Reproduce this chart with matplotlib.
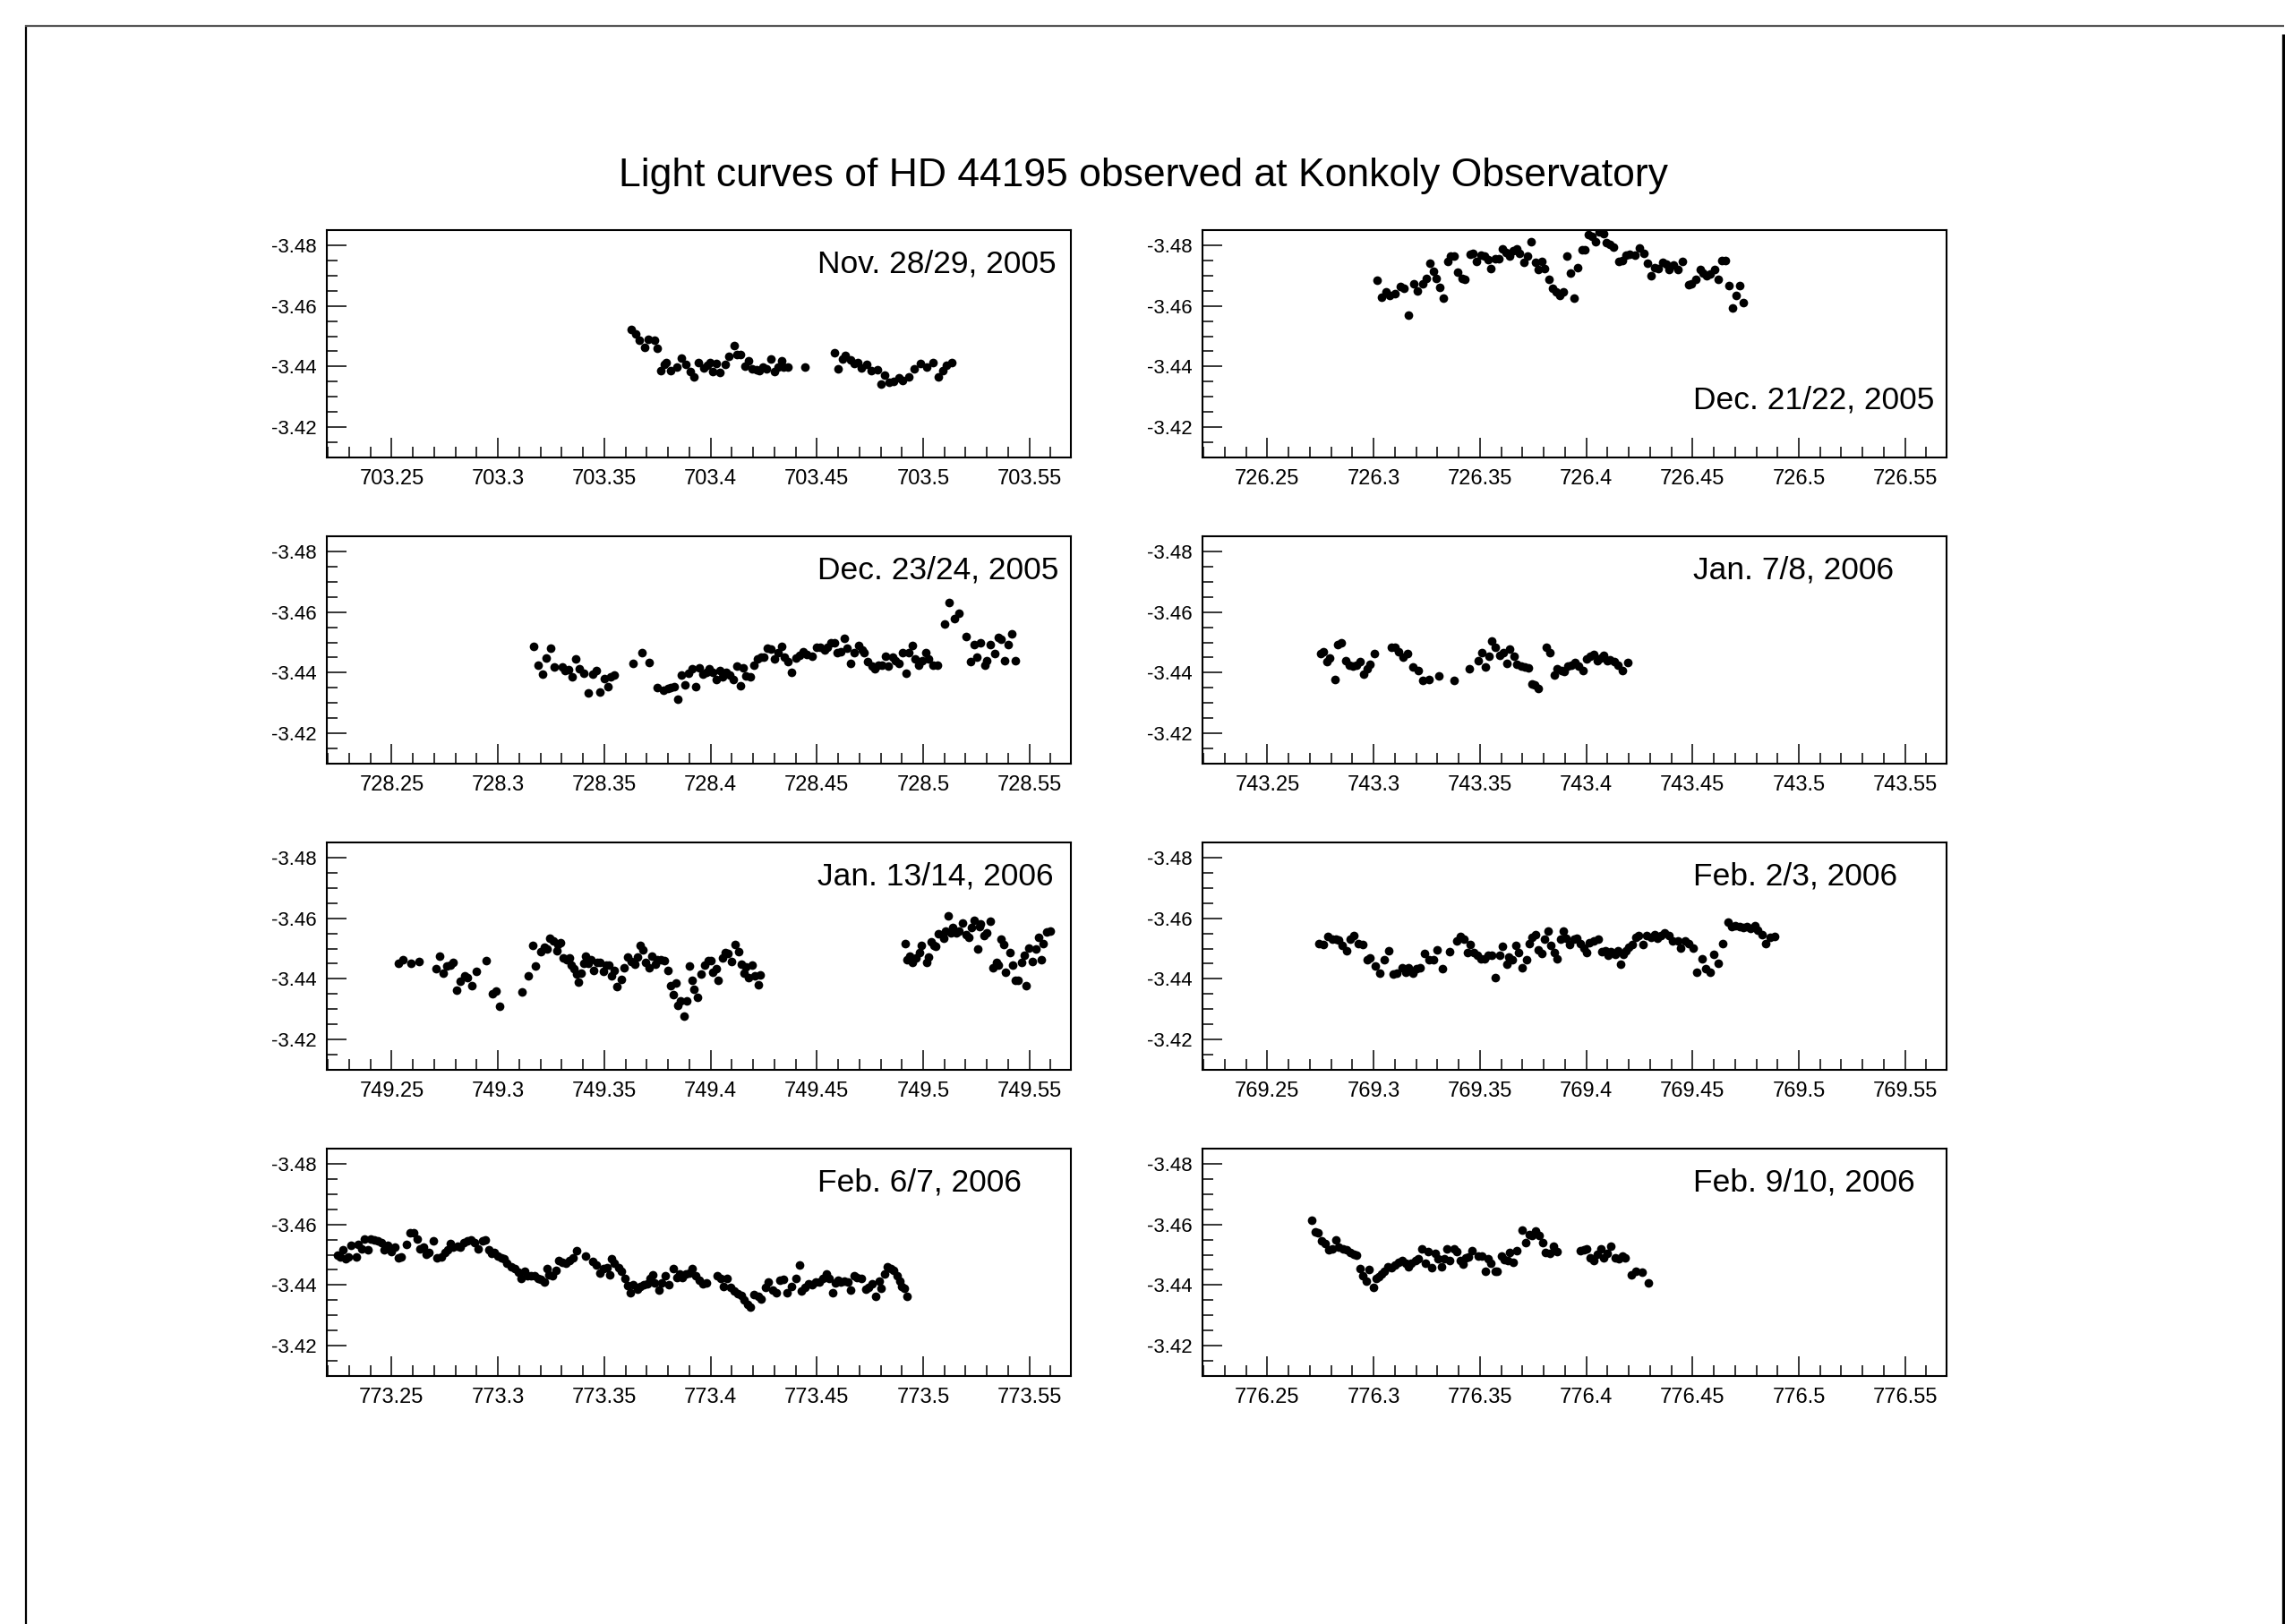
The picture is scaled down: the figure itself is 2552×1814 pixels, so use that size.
""" Light curves of HD 44195, one panel per observing night """

import matplotlib
matplotlib.use("Agg")
import matplotlib.pyplot as plt
from matplotlib.lines import Line2D
from matplotlib.ticker import MultipleLocator, FuncFormatter

plt.rcParams["font.family"] = ["Liberation Sans", "DejaVu Sans"]

title = "Light curves of HD 44195 observed at Konkoly Observatory"

nights = ["Nov. 28/29, 2005", "Dec. 21/22, 2005", "Dec. 23/24, 2005",
          "Jan. 7/8, 2006", "Jan. 13/14, 2006", "Feb. 2/3, 2006",
          "Feb. 6/7, 2006", "Feb. 9/10, 2006"]
night_days = [703, 726, 728, 743, 749, 769, 773, 776]

# HJD - 2453000 and differential V magnitude for every night
nov28_t = [703.3629, 703.3649, 703.3667, 703.3692, 703.3707, 703.3735, 703.3750, 703.3764, 703.3784, 703.3791,
           703.3814, 703.3843, 703.3861, 703.3886, 703.3904, 703.3920, 703.3944, 703.3967, 703.3983, 703.3999,
           703.4010, 703.4028, 703.4042, 703.4069, 703.4087, 703.4111, 703.4125, 703.4141, 703.4163, 703.4179,
           703.4195, 703.4215, 703.4231, 703.4247, 703.4265, 703.4285, 703.4301, 703.4317, 703.4333, 703.4344,
           703.4364, 703.4446, 703.4583, 703.4599, 703.4619, 703.4633, 703.4660, 703.4676, 703.4694, 703.4710,
           703.4734, 703.4757, 703.4786, 703.4802, 703.4820, 703.4841, 703.4863, 703.4886, 703.4904, 703.4931,
           703.4958, 703.4987, 703.5017, 703.5046, 703.5073, 703.5093, 703.5111, 703.5134]
nov28_mag = [-3.4521, -3.4508, -3.4488, -3.4464, -3.4491, -3.4486, -3.4461, -3.4387, -3.4407, -3.4412,
             -3.4387, -3.4397, -3.4427, -3.4407, -3.4382, -3.4365, -3.4412, -3.4395, -3.4404, -3.4412,
             -3.4382, -3.4410, -3.4380, -3.4407, -3.4435, -3.4468, -3.4440, -3.4440, -3.4402, -3.4419,
             -3.4392, -3.4390, -3.4387, -3.4397, -3.4392, -3.4424, -3.4384, -3.4397, -3.4420, -3.4397,
             -3.4399, -3.4397, -3.4445, -3.4392, -3.4425, -3.4437, -3.4422, -3.4409, -3.4412, -3.4395,
             -3.4407, -3.4387, -3.4389, -3.4341, -3.4372, -3.4348, -3.4351, -3.4362, -3.4354, -3.4367,
             -3.4392, -3.4410, -3.4397, -3.4414, -3.4365, -3.4385, -3.4405, -3.4412]

dec21_t = [726.3016, 726.3038, 726.3059, 726.3077, 726.3099, 726.3124, 726.3142, 726.3165, 726.3187, 726.3207,
           726.3230, 726.3246, 726.3264, 726.3280, 726.3295, 726.3313, 726.3329, 726.3347, 726.3363, 726.3379,
           726.3397, 726.3415, 726.3431, 726.3453, 726.3469, 726.3485, 726.3503, 726.3521, 726.3537, 726.3552,
           726.3573, 726.3589, 726.3607, 726.3622, 726.3640, 726.3658, 726.3672, 726.3688, 726.3706, 726.3724,
           726.3740, 726.3762, 726.3776, 726.3792, 726.3805, 726.3825, 726.3843, 726.3859, 726.3877, 726.3893,
           726.3911, 726.3927, 726.3945, 726.3961, 726.3981, 726.3994, 726.4012, 726.4028, 726.4046, 726.4062,
           726.4080, 726.4096, 726.4112, 726.4130, 726.4152, 726.4170, 726.4186, 726.4204, 726.4231, 726.4252,
           726.4270, 726.4290, 726.4306, 726.4324, 726.4339, 726.4360, 726.4378, 726.4391, 726.4412, 726.4432,
           726.4452, 726.4482, 726.4495, 726.4515, 726.4536, 726.4551, 726.4567, 726.4585, 726.4603, 726.4619,
           726.4637, 726.4653, 726.4671, 726.4687, 726.4705, 726.4723, 726.4739]
dec21_mag = [-3.4684, -3.4630, -3.4647, -3.4635, -3.4640, -3.4664, -3.4659, -3.4570, -3.4674, -3.4650,
             -3.4674, -3.4692, -3.4741, -3.4714, -3.4691, -3.4662, -3.4625, -3.4747, -3.4763, -3.4763,
             -3.4712, -3.4692, -3.4687, -3.4771, -3.4773, -3.4746, -3.4768, -3.4763, -3.4753, -3.4722,
             -3.4755, -3.4755, -3.4788, -3.4776, -3.4765, -3.4783, -3.4788, -3.4773, -3.4744, -3.4763,
             -3.4813, -3.4744, -3.4719, -3.4746, -3.4724, -3.4689, -3.4659, -3.4645, -3.4635, -3.4645,
             -3.4765, -3.4709, -3.4625, -3.4726, -3.4785, -3.4785, -3.4835, -3.4828, -3.4811, -3.4843,
             -3.4838, -3.4808, -3.4803, -3.4795, -3.4746, -3.4749, -3.4768, -3.4770, -3.4768, -3.4790,
             -3.4773, -3.4741, -3.4699, -3.4727, -3.4724, -3.4744, -3.4739, -3.4719, -3.4734, -3.4721,
             -3.4747, -3.4671, -3.4674, -3.4689, -3.4719, -3.4709, -3.4699, -3.4704, -3.4719, -3.4689,
             -3.4750, -3.4749, -3.4667, -3.4592, -3.4633, -3.4666, -3.4610]

dec23_t = [728.3170, 728.3190, 728.3210, 728.3228, 728.3246, 728.3264, 728.3301, 728.3316, 728.3332, 728.3350,
           728.3366, 728.3384, 728.3405, 728.3423, 728.3445, 728.3463, 728.3481, 728.3499, 728.3518, 728.3531,
           728.3549, 728.3635, 728.3678, 728.3710, 728.3750, 728.3780, 728.3798, 728.3814, 728.3829, 728.3845,
           728.3863, 728.3881, 728.3897, 728.3913, 728.3931, 728.3949, 728.3965, 728.3981, 728.3994, 728.4010,
           728.4028, 728.4044, 728.4058, 728.4074, 728.4092, 728.4107, 728.4123, 728.4139, 728.4155, 728.4168,
           728.4187, 728.4205, 728.4220, 728.4238, 728.4250, 728.4268, 728.4286, 728.4302, 728.4318, 728.4333,
           728.4349, 728.4365, 728.4383, 728.4401, 728.4419, 728.4435, 728.4453, 728.4476, 728.4498, 728.4514,
           728.4535, 728.4550, 728.4566, 728.4584, 728.4596, 728.4614, 728.4629, 728.4643, 728.4661, 728.4677,
           728.4695, 728.4713, 728.4724, 728.4740, 728.4758, 728.4774, 728.4790, 728.4808, 728.4824, 728.4837,
           728.4855, 728.4869, 728.4887, 728.4903, 728.4919, 728.4932, 728.4950, 728.4964, 728.4980, 728.4996,
           728.5014, 728.5027, 728.5045, 728.5066, 728.5102, 728.5122, 728.5147, 728.5170, 728.5201, 728.5224,
           728.5242, 728.5253, 728.5271, 728.5292, 728.5301, 728.5317, 728.5337, 728.5353, 728.5368, 728.5384,
           728.5400, 728.5416, 728.5434]
dec23_mag = [-3.4487, -3.4424, -3.4396, -3.4449, -3.4480, -3.4420, -3.4418, -3.4406, -3.4411, -3.4386,
             -3.4446, -3.4414, -3.4398, -3.4334, -3.4396, -3.4406, -3.4337, -3.4381, -3.4354, -3.4386,
             -3.4391, -3.4430, -3.4467, -3.4434, -3.4352, -3.4342, -3.4347, -3.4352, -3.4354, -3.4312,
             -3.4391, -3.4360, -3.4398, -3.4413, -3.4354, -3.4416, -3.4396, -3.4401, -3.4414, -3.4401,
             -3.4378, -3.4408, -3.4386, -3.4401, -3.4393, -3.4378, -3.4423, -3.4356, -3.4416, -3.4389,
             -3.4386, -3.4426, -3.4444, -3.4451, -3.4451, -3.4482, -3.4477, -3.4444, -3.4467, -3.4487,
             -3.4451, -3.4436, -3.4400, -3.4448, -3.4457, -3.4470, -3.4460, -3.4455, -3.4485, -3.4483,
             -3.4475, -3.4485, -3.4500, -3.4500, -3.4465, -3.4470, -3.4513, -3.4482, -3.4431, -3.4465,
             -3.4490, -3.4475, -3.4465, -3.4436, -3.4421, -3.4414, -3.4426, -3.4426, -3.4453, -3.4423,
             -3.4451, -3.4439, -3.4431, -3.4465, -3.4398, -3.4465, -3.4490, -3.4444, -3.4426, -3.4441,
             -3.4467, -3.4446, -3.4426, -3.4424, -3.4561, -3.4631, -3.4577, -3.4597, -3.4518, -3.4438,
             -3.4493, -3.4451, -3.4498, -3.4426, -3.4439, -3.4492, -3.4463, -3.4517, -3.4510, -3.4441,
             -3.4492, -3.4527, -3.4441]

jan7_t = [743.2749, 743.2765, 743.2781, 743.2795, 743.2817, 743.2833, 743.2849, 743.2867, 743.2885, 743.2903,
          743.2919, 743.2937, 743.2953, 743.2968, 743.2984, 743.3005, 743.3084, 743.3099, 743.3117, 743.3138,
          743.3160, 743.3183, 743.3208, 743.3232, 743.3260, 743.3305, 743.3379, 743.3449, 743.3492, 743.3510,
          743.3526, 743.3542, 743.3557, 743.3573, 743.3594, 743.3612, 743.3627, 743.3641, 743.3659, 743.3673,
          743.3693, 743.3711, 743.3727, 743.3743, 743.3758, 743.3776, 743.3813, 743.3831, 743.3849, 743.3864,
          743.3882, 743.3898, 743.3914, 743.3932, 743.3948, 743.3966, 743.3984, 743.4000, 743.4018, 743.4036,
          743.4052, 743.4068, 743.4083, 743.4099, 743.4113, 743.4131, 743.4149, 743.4169, 743.4194]
jan7_mag = [-3.4463, -3.4470, -3.4436, -3.4448, -3.4379, -3.4493, -3.4498, -3.4439, -3.4424, -3.4421,
            -3.4424, -3.4436, -3.4396, -3.4414, -3.4428, -3.4462, -3.4485, -3.4483, -3.4470, -3.4451,
            -3.4463, -3.4419, -3.4406, -3.4374, -3.4379, -3.4388, -3.4374, -3.4413, -3.4441, -3.4467,
            -3.4419, -3.4453, -3.4505, -3.4485, -3.4457, -3.4465, -3.4431, -3.4477, -3.4455, -3.4429,
            -3.4421, -3.4418, -3.4416, -3.4363, -3.4359, -3.4347, -3.4483, -3.4467, -3.4391, -3.4414,
            -3.4406, -3.4404, -3.4421, -3.4424, -3.4433, -3.4421, -3.4408, -3.4444, -3.4455, -3.4460,
            -3.4439, -3.4448, -3.4457, -3.4441, -3.4443, -3.4438, -3.4426, -3.4408, -3.4434]

jan13_t = [749.2534, 749.2553, 749.2593, 749.2629, 749.2708, 749.2724, 749.2742, 749.2760, 749.2776, 749.2790,
           749.2806, 749.2824, 749.2842, 749.2858, 749.2878, 749.2898, 749.2943, 749.2973, 749.2989, 749.3009,
           749.3113, 749.3142, 749.3163, 749.3176, 749.3201, 749.3219, 749.3231, 749.3244, 749.3260, 749.3276,
           749.3283, 749.3294, 749.3307, 749.3325, 749.3337, 749.3346, 749.3357, 749.3371, 749.3377, 749.3391,
           749.3402, 749.3411, 749.3425, 749.3438, 749.3452, 749.3466, 749.3481, 749.3495, 749.3509, 749.3520,
           749.3536, 749.3549, 749.3560, 749.3579, 749.3594, 749.3612, 749.3628, 749.3644, 749.3658, 749.3669,
           749.3680, 749.3694, 749.3710, 749.3723, 749.3739, 749.3750, 749.3768, 749.3784, 749.3798, 749.3811,
           749.3823, 749.3836, 749.3848, 749.3859, 749.3875, 749.3888, 749.3902, 749.3913, 749.3920, 749.3938,
           749.3954, 749.3972, 749.3988, 749.4003, 749.4010, 749.4026, 749.4037, 749.4055, 749.4069, 749.4083,
           749.4098, 749.4116, 749.4132, 749.4146, 749.4157, 749.4168, 749.4180, 749.4196, 749.4209, 749.4225,
           749.4232,
           749.4914, 749.4926, 749.4937, 749.4948, 749.4966, 749.4982, 749.4993, 749.5016, 749.5027, 749.5036,
           749.5050, 749.5061, 749.5072, 749.5095, 749.5106, 749.5118, 749.5129, 749.5140, 749.5156, 749.5167,
           749.5185, 749.5201, 749.5213, 749.5226, 749.5242, 749.5258, 749.5265, 749.5271, 749.5287, 749.5298,
           749.5314, 749.5328, 749.5344, 749.5355, 749.5368, 749.5378, 749.5389, 749.5407, 749.5423, 749.5434,
           749.5448, 749.5463, 749.5475, 749.5486, 749.5497, 749.5513, 749.5529, 749.5543, 749.5556, 749.5565,
           749.5581, 749.5597]
jan13_mag = [-3.4451, -3.4463, -3.4451, -3.4458, -3.4434, -3.4475, -3.4419, -3.4442, -3.4446, -3.4453,
             -3.4364, -3.4392, -3.4409, -3.4404, -3.4379, -3.4426, -3.4460, -3.4352, -3.4359, -3.4309,
             -3.4356, -3.4409, -3.4510, -3.4442, -3.4490, -3.4505, -3.4498, -3.4535, -3.4525, -3.4493,
             -3.4513, -3.4518, -3.4468, -3.4463, -3.4468, -3.4444, -3.4434, -3.4417, -3.4389, -3.4419,
             -3.4452, -3.4475, -3.4451, -3.4463, -3.4429, -3.4453, -3.4455, -3.4424, -3.4446, -3.4444,
             -3.4409, -3.4429, -3.4376, -3.4399, -3.4436, -3.4471, -3.4458, -3.4449, -3.4473, -3.4511,
             -3.4495, -3.4453, -3.4437, -3.4476, -3.4449, -3.4463, -3.4463, -3.4461, -3.4429, -3.4379,
             -3.4347, -3.4386, -3.4313, -3.4327, -3.4277, -3.4327, -3.4442, -3.4396, -3.4367, -3.4338,
             -3.4416, -3.4446, -3.4461, -3.4461, -3.4422, -3.4434, -3.4394, -3.4470, -3.4488, -3.4483,
             -3.4458, -3.4513, -3.4490, -3.4449, -3.4419, -3.4439, -3.4404, -3.4446, -3.4411, -3.4381,
             -3.4412,
             -3.4515, -3.4463, -3.4476, -3.4453, -3.4468, -3.4488, -3.4511, -3.4455, -3.4473, -3.4523,
             -3.4510, -3.4508, -3.4548, -3.4533, -3.4557, -3.4607, -3.4552, -3.4570, -3.4551, -3.4557,
             -3.4585, -3.4545, -3.4538, -3.4570, -3.4592, -3.4498, -3.4572, -3.4580, -3.4543, -3.4551,
             -3.4589, -3.4437, -3.4453, -3.4444, -3.4531, -3.4513, -3.4422, -3.4488, -3.4446, -3.4394,
             -3.4396, -3.4453, -3.4478, -3.4377, -3.4503, -3.4458, -3.4498, -3.4538, -3.4463, -3.4515,
             -3.4554, -3.4559]

feb2_t = [769.2743, 769.2765, 769.2783, 769.2804, 769.2822, 769.2837, 769.2853, 769.2874, 769.2889, 769.2907,
          769.2926, 769.2948, 769.2968, 769.2984, 769.3009, 769.3029, 769.3052, 769.3070, 769.3093, 769.3111,
          769.3133, 769.3151, 769.3165, 769.3185, 769.3203, 769.3219, 769.3239, 769.3260, 769.3280, 769.3300,
          769.3325, 769.3359, 769.3390, 769.3406, 769.3424, 769.3440, 769.3456, 769.3472, 769.3488, 769.3506,
          769.3521, 769.3539, 769.3555, 769.3573, 769.3594, 769.3607, 769.3625, 769.3636, 769.3652, 769.3668,
          769.3682, 769.3700, 769.3718, 769.3731, 769.3747, 769.3763, 769.3776, 769.3792, 769.3806, 769.3819,
          769.3835, 769.3849, 769.3864, 769.3880, 769.3894, 769.3907, 769.3923, 769.3941, 769.3957, 769.3973,
          769.3989, 769.4002, 769.4016, 769.4036, 769.4056, 769.4074, 769.4090, 769.4104, 769.4117, 769.4135,
          769.4149, 769.4160, 769.4174, 769.4187, 769.4201, 769.4217, 769.4232, 769.4248, 769.4266, 769.4286,
          769.4305, 769.4320, 769.4334, 769.4352, 769.4370, 769.4390, 769.4408, 769.4431, 769.4442, 769.4465,
          769.4483, 769.4501, 769.4519, 769.4544, 769.4560, 769.4582, 769.4600, 769.4621, 769.4643, 769.4666,
          769.4684, 769.4702, 769.4720, 769.4738, 769.4754, 769.4774, 769.4792, 769.4808, 769.4826, 769.4846,
          769.4864, 769.4885]
feb2_mag = [-3.4517, -3.4514, -3.4540, -3.4532, -3.4532, -3.4527, -3.4510, -3.4494, -3.4530, -3.4542,
            -3.4517, -3.4512, -3.4464, -3.4470, -3.4443, -3.4418, -3.4464, -3.4494, -3.4416, -3.4418,
            -3.4438, -3.4423, -3.4438, -3.4418, -3.4433, -3.4436, -3.4484, -3.4464, -3.4464, -3.4497,
            -3.4435, -3.4489, -3.4524, -3.4540, -3.4530, -3.4487, -3.4512, -3.4487, -3.4477, -3.4467,
            -3.4467, -3.4477, -3.4477, -3.4403, -3.4479, -3.4507, -3.4447, -3.4472, -3.4462, -3.4510,
            -3.4487, -3.4436, -3.4462, -3.4517, -3.4537, -3.4547, -3.4497, -3.4484, -3.4532, -3.4559,
            -3.4510, -3.4487, -3.4467, -3.4532, -3.4557, -3.4534, -3.4514, -3.4532, -3.4534, -3.4517,
            -3.4502, -3.4487, -3.4520, -3.4524, -3.4532, -3.4489, -3.4494, -3.4477, -3.4489, -3.4482,
            -3.4492, -3.4449, -3.4482, -3.4492, -3.4504, -3.4514, -3.4537, -3.4544, -3.4514, -3.4544,
            -3.4537, -3.4547, -3.4534, -3.4542, -3.4552, -3.4542, -3.4524, -3.4524, -3.4502, -3.4524,
            -3.4517, -3.4502, -3.4423, -3.4467, -3.4435, -3.4421, -3.4482, -3.4450, -3.4517, -3.4588,
            -3.4572, -3.4574, -3.4572, -3.4569, -3.4572, -3.4567, -3.4574, -3.4562, -3.4547, -3.4517,
            -3.4537, -3.4540]

feb6_t = [773.2244, 773.2260, 773.2271, 773.2285, 773.2298, 773.2309, 773.2332, 773.2343, 773.2361, 773.2373,
          773.2388, 773.2402, 773.2418, 773.2433, 773.2452, 773.2463, 773.2481, 773.2497, 773.2515, 773.2531,
          773.2546, 773.2569, 773.2587, 773.2605, 773.2621, 773.2632, 773.2648, 773.2661, 773.2677, 773.2698,
          773.2713, 773.2734, 773.2749, 773.2763, 773.2777, 773.2790, 773.2808, 773.2824, 773.2840, 773.2858,
          773.2874, 773.2892, 773.2907, 773.2926, 773.2941, 773.2957, 773.2971, 773.2982, 773.2998, 773.3016,
          773.3027, 773.3043, 773.3061, 773.3079, 773.3095, 773.3111, 773.3124, 773.3140, 773.3156, 773.3174,
          773.3190, 773.3201, 773.3219, 773.3232, 773.3241, 773.3257, 773.3273, 773.3287, 773.3302, 773.3320,
          773.3336, 773.3352, 773.3372, 773.3413, 773.3445, 773.3463, 773.3478, 773.3497, 773.3512, 773.3528,
          773.3535, 773.3548, 773.3567, 773.3580, 773.3598, 773.3609, 773.3621, 773.3636, 773.3655, 773.3670,
          773.3688, 773.3704, 773.3715, 773.3727, 773.3738, 773.3756, 773.3772, 773.3788, 773.3806, 773.3824,
          773.3840, 773.3853, 773.3869, 773.3885, 773.3901, 773.3914, 773.3932, 773.3946, 773.3964, 773.3980,
          773.4031, 773.4047, 773.4061, 773.4077, 773.4095, 773.4110, 773.4129, 773.4144, 773.4158, 773.4174,
          773.4189, 773.4203, 773.4223, 773.4239, 773.4257, 773.4273, 773.4291, 773.4309, 773.4325, 773.4341,
          773.4359, 773.4381, 773.4404, 773.4417, 773.4426, 773.4442, 773.4460, 773.4478, 773.4494, 773.4512,
          773.4528, 773.4544, 773.4557, 773.4573, 773.4587, 773.4600, 773.4614, 773.4630, 773.4648, 773.4659,
          773.4675, 773.4690, 773.4709, 773.4731, 773.4742, 773.4760, 773.4776, 773.4792, 773.4803, 773.4817,
          773.4833, 773.4848, 773.4862, 773.4878, 773.4889, 773.4900, 773.4912, 773.4923]
feb6_mag = [-3.4498, -3.4492, -3.4515, -3.4486, -3.4492, -3.4530, -3.4492, -3.4535, -3.4518, -3.4552,
            -3.4515, -3.4552, -3.4550, -3.4545, -3.4540, -3.4515, -3.4530, -3.4510, -3.4525, -3.4490,
            -3.4492, -3.4535, -3.4572, -3.4572, -3.4552, -3.4520, -3.4525, -3.4502, -3.4508, -3.4545,
            -3.4490, -3.4492, -3.4508, -3.4515, -3.4538, -3.4525, -3.4528, -3.4525, -3.4540, -3.4545,
            -3.4550, -3.4540, -3.4520, -3.4545, -3.4550, -3.4515, -3.4505, -3.4508, -3.4495, -3.4489,
            -3.4486, -3.4473, -3.4461, -3.4453, -3.4443, -3.4423, -3.4446, -3.4431, -3.4431, -3.4431,
            -3.4423, -3.4419, -3.4411, -3.4453, -3.4433, -3.4431, -3.4449, -3.4481, -3.4476, -3.4471,
            -3.4481, -3.4490, -3.4512, -3.4495, -3.4479, -3.4466, -3.4441, -3.4453, -3.4456, -3.4433,
            -3.4486, -3.4471, -3.4456, -3.4446, -3.4421, -3.4399, -3.4376, -3.4401, -3.4386, -3.4396,
            -3.4401, -3.4403, -3.4421, -3.4433, -3.4406, -3.4383, -3.4406, -3.4431, -3.4401, -3.4453,
            -3.4426, -3.4436, -3.4426, -3.4436, -3.4441, -3.4453, -3.4431, -3.4416, -3.4403, -3.4406,
            -3.4431, -3.4421, -3.4396, -3.4421, -3.4391, -3.4381, -3.4371, -3.4366, -3.4352, -3.4337,
            -3.4327, -3.4369, -3.4364, -3.4354, -3.4391, -3.4409, -3.4383, -3.4376, -3.4416, -3.4419,
            -3.4376, -3.4396, -3.4423, -3.4466, -3.4381, -3.4391, -3.4403, -3.4401, -3.4409, -3.4411,
            -3.4423, -3.4436, -3.4423, -3.4376, -3.4406, -3.4416, -3.4409, -3.4414, -3.4409, -3.4383,
            -3.4431, -3.4426, -3.4423, -3.4386, -3.4393, -3.4403, -3.4362, -3.4413, -3.4389, -3.4436,
            -3.4461, -3.4453, -3.4449, -3.4431, -3.4413, -3.4396, -3.4389, -3.4362]

feb9_t = [776.2709, 776.2725, 776.2740, 776.2756, 776.2772, 776.2788, 776.2804, 776.2822, 776.2837, 776.2856,
          776.2871, 776.2889, 776.2905, 776.2919, 776.2937, 776.2950, 776.2966, 776.2980, 776.2998, 776.3011,
          776.3025, 776.3038, 776.3052, 776.3068, 776.3084, 776.3099, 776.3117, 776.3133, 776.3149, 776.3165,
          776.3178, 776.3196, 776.3210, 776.3226, 776.3244, 776.3257, 776.3273, 776.3289, 776.3302, 776.3318,
          776.3334, 776.3345, 776.3359, 776.3377, 776.3390, 776.3406, 776.3420, 776.3433, 776.3447, 776.3463,
          776.3494, 776.3510, 776.3526, 776.3537, 776.3553, 776.3571, 776.3582, 776.3600, 776.3616, 776.3630,
          776.3641, 776.3657, 776.3673, 776.3700, 776.3715, 776.3734, 776.3747, 776.3763, 776.3779, 776.3794,
          776.3810, 776.3828, 776.3844, 776.3862, 776.3971, 776.3989, 776.4002, 776.4020, 776.4036, 776.4052,
          776.4068, 776.4083, 776.4099, 776.4115, 776.4135, 776.4153, 776.4171, 776.4183, 776.4212, 776.4235,
          776.4262, 776.4291]
feb9_mag = [-3.4613, -3.4575, -3.4572, -3.4545, -3.4538, -3.4515, -3.4520, -3.4550, -3.4525, -3.4520,
            -3.4515, -3.4508, -3.4502, -3.4498, -3.4453, -3.4431, -3.4413, -3.4451, -3.4391, -3.4421,
            -3.4429, -3.4438, -3.4446, -3.4461, -3.4456, -3.4466, -3.4476, -3.4481, -3.4473, -3.4461,
            -3.4471, -3.4481, -3.4486, -3.4520, -3.4473, -3.4510, -3.4456, -3.4505, -3.4486, -3.4461,
            -3.4486, -3.4518, -3.4481, -3.4518, -3.4510, -3.4481, -3.4469, -3.4490, -3.4492, -3.4513,
            -3.4495, -3.4495, -3.4446, -3.4486, -3.4471, -3.4446, -3.4446, -3.4495, -3.4483, -3.4481,
            -3.4508, -3.4476, -3.4512, -3.4580, -3.4540, -3.4568, -3.4565, -3.4578, -3.4565, -3.4540,
            -3.4508, -3.4505, -3.4527, -3.4510, -3.4512, -3.4515, -3.4520, -3.4489, -3.4481, -3.4502,
            -3.4520, -3.4489, -3.4505, -3.4528, -3.4489, -3.4486, -3.4495, -3.4489, -3.4433, -3.4446,
            -3.4443, -3.4406]

curves = [(nov28_t, nov28_mag), (dec21_t, dec21_mag), (dec23_t, dec23_mag),
          (jan7_t, jan7_mag), (jan13_t, jan13_mag), (feb2_t, feb2_mag),
          (feb6_t, feb6_mag), (feb9_t, feb9_mag)]

W, H = 2552, 1814
fig = plt.figure(figsize=(W / 100, H / 100), dpi=100)

# canvas border (only left, top and right edges end up inside the picture)
border = dict(transform=fig.transFigure, solid_capstyle="butt")
fig.add_artist(Line2D([29 / W, 29 / W], [0, 1 - 28 / H], color="black", lw=1.6, **border))
fig.add_artist(Line2D([28 / W, 2551 / W], [1 - 29 / H, 1 - 29 / H], color="#555555", lw=1.6, **border))
fig.add_artist(Line2D([2550 / W, 2550 / W], [0, 1 - 38 / H], color="black", lw=2.4, **border))

fig.text(1277 / W, 1 - 208 / H, title, ha="center", va="baseline", fontsize=32)

col_left = [365, 1343]
row_top = [257, 599, 941, 1283]
panel_w, panel_h = 831, 254


def plot_night(ax, times, mags, label, day, label_y):
    """ Draws one night of photometry in its own frame """
    ax.plot(times, mags, "o", color="black", markersize=7, markeredgewidth=0)

    ax.set_xlim(day + 0.2195, day + 0.5695)
    ax.set_ylim(-3.41, -3.485)

    ax.xaxis.set_major_locator(MultipleLocator(0.05))
    ax.xaxis.set_minor_locator(MultipleLocator(0.01))
    ax.yaxis.set_major_locator(MultipleLocator(0.02))
    ax.yaxis.set_minor_locator(MultipleLocator(0.005))
    fmt = FuncFormatter(lambda v, pos: "%g" % round(v, 4))
    ax.xaxis.set_major_formatter(fmt)
    ax.yaxis.set_major_formatter(fmt)

    ax.tick_params(which="both", direction="in", top=False, right=False, width=1.1)
    ax.tick_params(which="major", length=16)
    ax.tick_params(which="minor", length=8.3)
    ax.tick_params(axis="x", labelsize=17, pad=9.5)
    ax.tick_params(axis="y", labelsize=16, pad=8.5)
    for spine in ax.spines.values():
        spine.set_linewidth(1.5)

    ax.text(0.659, label_y, label, transform=ax.transAxes, fontsize=25.5,
            ha="left", va="baseline")


for i, (times, mags) in enumerate(curves):
    row, col = divmod(i, 2)
    left = col_left[col] / W
    bottom = 1 - (row_top[row] + panel_h) / H
    ax = fig.add_axes([left, bottom, panel_w / W, panel_h / H])
    # the Dec. 21/22 curve sits high, so its date goes to the lower corner
    label_y = 0.215 if i == 1 else 0.812
    plot_night(ax, times, mags, nights[i], night_days[i], label_y)

fig.savefig("out.png", dpi=100, facecolor="white")
